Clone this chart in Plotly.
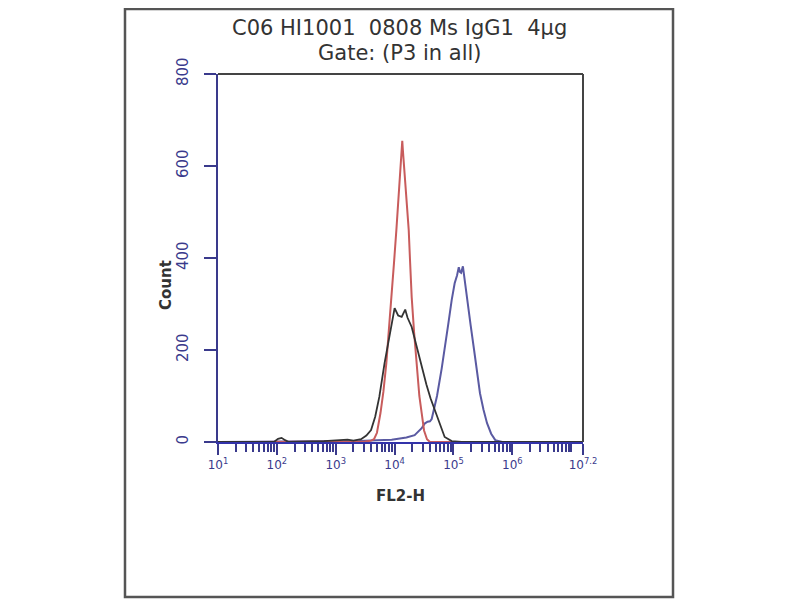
import plotly.graph_objects as go

# ---- data (x in log10 units of FL2-H, y = count) ----
red_log = [1.0, 3.40, 3.50, 3.60, 3.65, 3.70, 3.76, 3.81, 3.86, 3.90, 3.95, 3.99, 4.03, 4.07,
           4.10, 4.12, 4.13, 4.14, 4.16, 4.18, 4.21, 4.24, 4.26, 4.29, 4.33, 4.37, 4.42,
           4.46, 4.50, 4.55, 4.60, 7.2]
red_count = [0, 0, 1, 3, 6, 20, 63, 110, 172, 240, 315, 390, 461, 540,
             600, 640, 655, 635, 600, 560, 505, 460, 400, 315, 240, 172, 100,
             63, 25, 6, 0, 0]

black_log = [1.0, 1.95, 2.02, 2.08, 2.14, 2.20, 2.80, 3.00, 3.20, 3.30, 3.43, 3.52, 3.60, 3.67,
             3.74, 3.83, 3.91, 3.96, 4.00, 4.06, 4.12, 4.18, 4.22, 4.29, 4.35, 4.41,
             4.47, 4.54, 4.61, 4.68, 4.76, 4.85, 4.97, 5.14, 7.2]
black_count = [0, 0, 7, 9, 4, 0, 2, 3, 5, 3, 6, 14, 26, 55,
               98, 172, 230, 265, 291, 275, 272, 288, 270, 250, 220, 190,
               155, 125, 95, 70, 40, 11, 2, 0, 0]

blue_log = [1.0, 3.40, 3.70, 3.95, 4.20, 4.34, 4.46, 4.51, 4.56, 4.60, 4.63, 4.67, 4.72,
            4.80, 4.85, 4.91, 4.97, 5.02, 5.06, 5.09, 5.11, 5.13, 5.16, 5.19, 5.23,
            5.29, 5.35, 5.40, 5.45, 5.51, 5.57, 5.64, 5.71, 5.83, 7.2]
blue_count = [0, 2, 4, 5, 10, 15, 30, 40, 44, 45, 50, 70, 100,
              160, 200, 255, 309, 345, 362, 380, 370, 368, 382, 350, 309,
              255, 200, 150, 106, 70, 41, 18, 4, 0, 0]

x_tick_pos = [1, 2, 3, 4, 5, 6, 7.2]
x_tick_text = ["10<sup>1</sup>", "10<sup>2</sup>", "10<sup>3</sup>", "10<sup>4</sup>",
               "10<sup>5</sup>", "10<sup>6</sup>", "10<sup>7.2</sup>"]
y_ticks = [0, 200, 400, 600, 800]

title_lines = ["C06 HI1001  0808 Ms IgG1  4μg", "Gate: (P3 in all)"]
x_title = "FL2-H"
y_title = "Count"

navy = "#3a3a8c"

fig = go.Figure()
fig.add_trace(go.Scatter(x=[10 ** v for v in blue_log], y=blue_count, mode="lines",
                         line=dict(color="#5a5aa2", width=2), showlegend=False))
fig.add_trace(go.Scatter(x=[10 ** v for v in red_log], y=red_count, mode="lines",
                         line=dict(color="#c85c5c", width=2), showlegend=False))
fig.add_trace(go.Scatter(x=[10 ** v for v in black_log], y=black_count, mode="lines",
                         line=dict(color="#333333", width=1.8), showlegend=False))

fig.update_xaxes(type="log", range=[1, 7.2], showgrid=False, zeroline=False,
                 showline=True, linecolor="#3333aa", linewidth=2,
                 tickmode="array", tickvals=[10 ** v for v in x_tick_pos], ticktext=x_tick_text,
                 ticks="outside", ticklen=11, tickwidth=2, tickcolor=navy,
                 tickfont=dict(family="DejaVu Sans", size=12, color=navy),
                 minor=dict(ticks="outside", ticklen=8, tickwidth=2, tickcolor=navy, dtick="D1"),
                 title=dict(text="<b>" + x_title + "</b>",
                            font=dict(family="DejaVu Sans", size=15, color="#333333"),
                            standoff=19))
fig.update_yaxes(range=[0, 800], showgrid=False, zeroline=False,
                 showline=True, linecolor=navy, linewidth=2,
                 tickmode="array", tickvals=y_ticks, ticktext=[str(v) for v in y_ticks],
                 ticks="outside", ticklen=12, tickwidth=2, tickcolor=navy, tickangle=-90,
                 ticklabelstandoff=10,
                 tickfont=dict(family="DejaVu Sans", size=15, color=navy))

shapes = [
    dict(type="line", xref="paper", yref="paper", x0=0, x1=1, y0=1, y1=1,
         line=dict(color="#444444", width=2)),
    dict(type="line", xref="paper", yref="paper", x0=1, x1=1, y0=0, y1=1,
         line=dict(color="#444444", width=2)),
    dict(type="rect", xref="paper", yref="paper", x0=-0.2548, x1=1.2466, y0=-0.4212, y1=1.1766,
         line=dict(color="#555555", width=2.5)),
]

annotations = [
    dict(text=title_lines[0], xref="paper", yref="paper", x=0.4986, y=1.125,
         showarrow=False, font=dict(family="DejaVu Sans", size=21, color="#333333"),
         xanchor="center", yanchor="middle"),
    dict(text=title_lines[1], xref="paper", yref="paper", x=0.4986, y=1.0571,
         showarrow=False, font=dict(family="DejaVu Sans", size=21, color="#333333"),
         xanchor="center", yanchor="middle"),
    dict(text="<b>" + y_title + "</b>", xref="paper", yref="paper", x=-0.1425, y=0.4266,
         textangle=-90, showarrow=False,
         font=dict(family="DejaVu Sans", size=15, color="#333333"),
         xanchor="center", yanchor="middle"),
]

# page adds ~8px offset; margins compensate so the plot lands where the reference has it
fig.update_layout(width=800, height=600, margin=dict(l=210, r=225, t=66, b=166),
                  plot_bgcolor="white", paper_bgcolor="white",
                  shapes=shapes, annotations=annotations)

fig.write_html("out.html")
